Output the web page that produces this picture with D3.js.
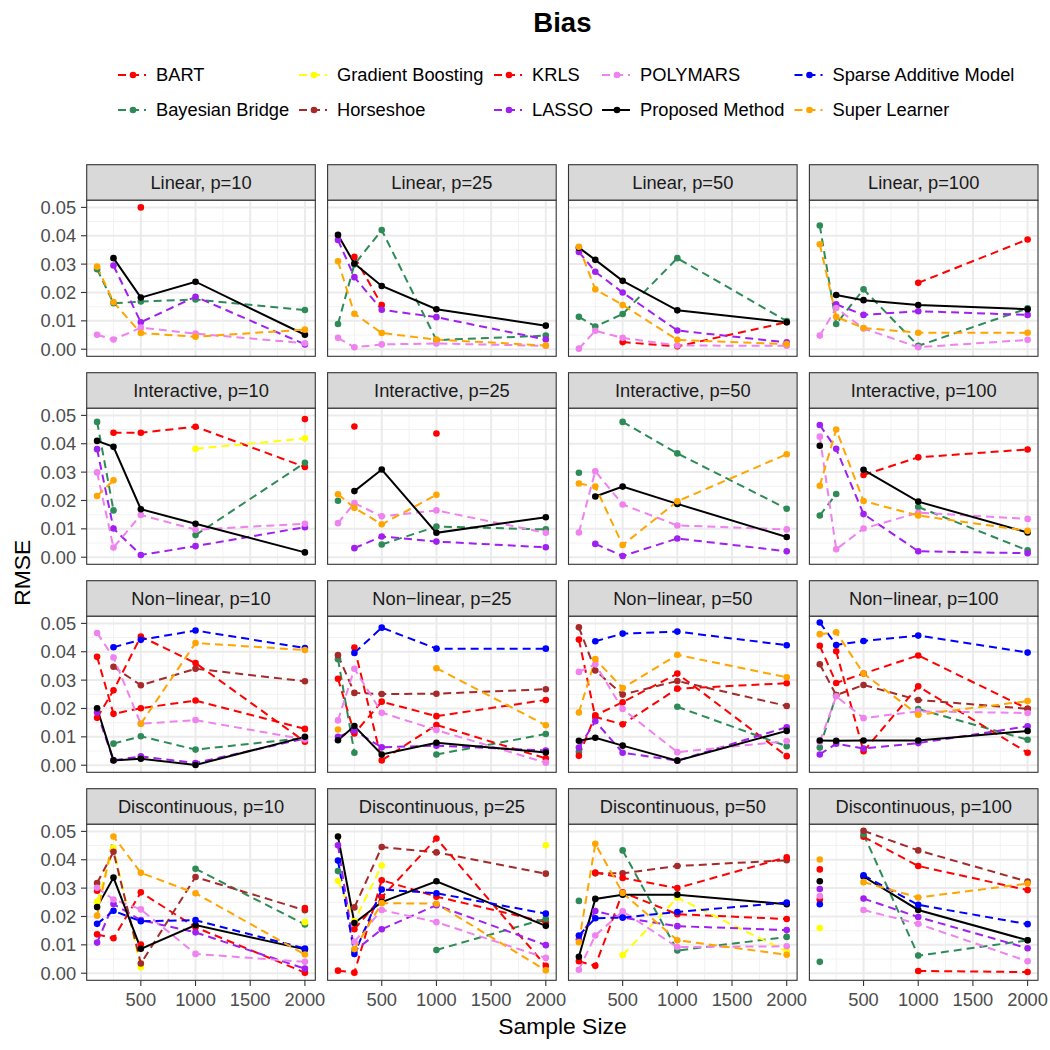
<!DOCTYPE html>
<html>
<head>
<meta charset="utf-8">
<script src="https://d3js.org/d3.v7.min.js"></script>
<style>
  body { margin: 0; background: #fff; }
  text { font-family: "Liberation Sans", Arial, Helvetica, sans-serif; }
</style>
</head>
<body>
<script>
// sample sizes on the x axis
const sampleSizes = [100, 250, 500, 1000, 2000]

const facetLabels = [
  "Linear, p=10", "Linear, p=25", "Linear, p=50", "Linear, p=100",
  "Interactive, p=10", "Interactive, p=25", "Interactive, p=50", "Interactive, p=100",
  "Non\u2212linear, p=10", "Non\u2212linear, p=25", "Non\u2212linear, p=50", "Non\u2212linear, p=100",
  "Discontinuous, p=10", "Discontinuous, p=25", "Discontinuous, p=50", "Discontinuous, p=100"
]

const methods = ["BART", "Bayesian Bridge", "Gradient Boosting", "Horseshoe", "KRLS",
  "LASSO", "POLYMARS", "Proposed Method", "Sparse Additive Model", "Super Learner"]
const methodColors = ["#FF0000", "#2E8B57", "#FFFF00", "#A52A2A", "#FF0000",
  "#A020F0", "#EE82EE", "#000000", "#0000FF", "#FFA500"]

const yTicks = [0, 0.01, 0.02, 0.03, 0.04, 0.05]
const xTicks = [500, 1000, 1500, 2000]

// one row per facet (in facetLabels order), one value per sample size; null = not shown
const N = null
const bart = [
  [N, N, 0.050, N, N], [N, 0.0326, 0.0156, N, N], [N, N, 0.0025, 0.001, 0.0095], [N, N, N, 0.0234, 0.0387],
  [N, 0.0439, 0.0439, 0.046, 0.0318], [N, 0.0461, N, 0.0436, N], [N, N, N, N, N], [N, N, 0.029, 0.0352, 0.038],
  [0.0382, 0.0181, 0.0201, 0.0228, 0.0128], [0.0305, 0.0112, 0.0224, 0.0173, 0.023], [0.0443, 0.017, 0.0144, 0.027, 0.0289], [0.0421, 0.029, 0.0323, 0.0387, 0.0199],
  [0.0137, 0.0123, 0.0285, 0.0162, 0.0002], [0.0009, 0.0002, 0.0328, 0.027, 0.018], [0.0042, 0.0026, 0.0285, 0.0208, 0.0191], [0.0366, N, 0.0481, 0.0378, 0.0293]
]
const bayesBridge = [
  [0.0282, 0.0162, 0.0168, 0.0175, 0.0138], [0.0089, 0.0299, 0.042, 0.0032, 0.0048], [0.0114, 0.008, 0.0124, 0.0321, 0.0099], [0.0436, 0.0089, 0.0211, 0.0012, 0.0144],
  [0.0477, 0.0165, N, 0.0078, 0.0333], [0.0199, N, 0.0045, 0.0108, 0.0098], [0.0298, N, 0.0477, 0.0366, 0.0171], [0.0147, 0.0223, N, 0.0177, 0.0024],
  [N, 0.0076, 0.0102, 0.0055, 0.0096], [0.0374, 0.0044, N, 0.0038, 0.011], [0.0047, N, N, 0.0206, 0.0067], [0.0062, 0.0247, N, 0.0198, 0.009],
  [N, N, N, 0.0368, 0.0172], [0.036, N, N, 0.0082, 0.0192], [0.0255, N, 0.0433, 0.008, 0.0128], [0.004, N, 0.049, 0.0062, 0.0116]
]
const gradBoost = [
  [N, N, N, N, N], [N, N, N, N, N], [N, N, N, N, N], [N, N, N, N, N],
  [N, N, N, 0.0382, 0.0419], [N, N, N, N, N], [N, N, N, N, N], [N, N, N, N, N],
  [N, N, N, N, N], [N, N, N, N, N], [N, N, N, N, N], [N, N, N, N, N],
  [0.0252, 0.0441, 0.0021, N, 0.018], [0.0326, 0.0184, 0.038, N, 0.0451], [N, N, 0.0064, 0.0266, 0.0077], [0.0159, N, N, N, N]
]
const horseshoe = [
  [N, N, N, N, N], [N, N, N, N, N], [N, N, N, N, N], [N, N, N, N, N],
  [N, N, N, N, N], [N, N, N, N, N], [N, N, N, N, N], [N, N, N, N, N],
  [N, 0.0347, 0.0282, 0.034, 0.0296], [0.0388, 0.0255, 0.0251, 0.0252, 0.0268], [0.0486, 0.0334, 0.0249, 0.0297, 0.0209], [0.0356, 0.0247, 0.0283, 0.023, 0.0199],
  [0.0318, 0.0428, 0.0034, 0.0339, 0.0222], [N, 0.0232, 0.0445, 0.0426, 0.0351], [N, 0.0352, 0.0352, 0.0378, 0.0398], [N, N, 0.0502, 0.0433, 0.0323]
]
const krls = [
  [N, N, N, N, N], [N, N, N, N, N], [N, N, N, N, N], [N, N, N, N, N],
  [N, N, N, N, 0.0487], [N, N, N, N, N], [N, N, N, N, N], [N, N, N, N, N],
  [0.0167, 0.0264, 0.0454, 0.036, 0.0083], [N, 0.0415, 0.0017, 0.0142, 0.0024], [0.0033, 0.0176, 0.0222, 0.0323, 0.0032], [N, 0.0402, 0.0049, 0.0278, 0.0044],
  [0.0291, N, 0.0101, N, 0.023], [N, 0.0155, 0.0268, 0.0475, 0.0026], [N, 0.0355, 0.0336, 0.03, 0.0409], [0.026, N, N, 0.0008, 0.0004]
]
const lasso = [
  [N, 0.0295, 0.0095, 0.0185, 0.0017], [0.0385, 0.0254, 0.0139, 0.0113, 0.0034], [0.0343, 0.0273, 0.020, 0.0066, 0.0024], [N, 0.0158, 0.0121, 0.0134, 0.0121],
  [0.0381, 0.0101, 0.0008, 0.0039, 0.0106], [N, 0.0032, 0.0073, 0.0055, 0.0035], [N, 0.0047, 0.0004, 0.0066, 0.0021], [0.0466, 0.0382, 0.0152, 0.0021, 0.0014],
  [0.0186, 0.0017, 0.0031, 0.0008, 0.0094], [0.01, 0.0122, 0.0063, 0.0069, 0.0052], [0.0062, 0.0155, 0.0044, 0.0016, 0.0134], [0.0038, 0.0076, 0.0059, 0.0078, 0.0137],
  [0.0108, 0.0244, 0.0187, 0.0144, 0.0016], [0.0451, 0.0078, 0.0155, 0.024, 0.0099], [0.0119, 0.0219, 0.0196, 0.0166, 0.0152], [0.0297, N, 0.0263, 0.0198, 0.0088]
]
const polymars = [
  [0.0051, 0.0034, 0.0076, 0.0055, 0.0021], [0.004, 0.0007, 0.0017, 0.002, 0.0012], [0.0002, 0.0065, 0.004, 0.0013, 0.0012], [0.0048, 0.0145, 0.0073, 0.0007, 0.0033],
  [0.0299, 0.0034, 0.0149, 0.0097, 0.0118], [0.012, 0.0191, 0.0144, 0.0165, 0.0086], [0.0087, 0.0303, 0.0186, 0.0112, 0.0098], [0.0425, 0.0028, 0.0101, 0.0157, 0.0135],
  [0.0466, 0.038, 0.0146, 0.0159, 0.0091], [0.0158, 0.034, 0.0185, 0.0124, 0.0009], [0.0329, 0.0356, 0.0198, 0.0046, 0.0085], [0.0082, 0.0243, 0.0166, 0.019, 0.0184],
  [0.0301, 0.026, 0.0225, 0.0068, 0.004], [N, 0.0111, 0.0223, 0.018, 0.0054], [0.0012, 0.0133, 0.0218, 0.0092, 0.0095], [0.0272, N, 0.0223, 0.0174, 0.0042]
]
const proposed = [
  [N, 0.0321, 0.0182, 0.0238, 0.0051], [0.0403, 0.0302, 0.0223, 0.0141, 0.0083], [0.0358, 0.0315, 0.0241, 0.0137, 0.0095], [N, 0.0191, 0.0173, 0.0156, 0.0141],
  [0.041, 0.0389, 0.0169, 0.0118, 0.0017], [N, 0.0233, 0.0309, 0.0086, 0.0141], [N, 0.0214, 0.0249, 0.0188, 0.0071], [0.0393, N, 0.0308, 0.0196, 0.0087],
  [0.0201, 0.0017, 0.0023, 0.0001, 0.01], [0.0088, 0.0138, 0.0038, 0.0079, 0.0045], [0.0086, 0.0097, 0.0069, 0.0016, 0.0121], [0.0087, 0.0086, 0.0087, 0.0087, 0.0121],
  [0.0233, 0.0337, 0.0086, 0.017, 0.0084], [0.0482, 0.0177, 0.0251, 0.0324, 0.0167], [0.0058, 0.0262, 0.0277, 0.0277, 0.0243], [0.0324, N, 0.0341, 0.0223, 0.0116]
]
const sparseAdditive = [
  [N, N, N, N, N], [N, N, N, N, N], [N, N, N, N, N], [N, N, N, N, N],
  [N, N, N, N, N], [N, N, N, N, N], [N, N, N, N, N], [N, N, N, N, N],
  [N, 0.0416, 0.0442, 0.0475, 0.0413], [N, 0.0396, 0.0485, 0.0411, 0.0411], [N, 0.0437, 0.0464, 0.0471, 0.0423], [0.0503, 0.0424, 0.0438, 0.0457, 0.0397],
  [0.0174, 0.022, 0.0183, 0.0187, 0.0087], [0.0397, 0.0068, 0.0295, 0.0282, 0.021], [0.0133, 0.0194, 0.0196, 0.0216, 0.0249], [0.0243, N, 0.0345, 0.0241, 0.0173]
]
const superLearner = [
  [0.0291, 0.0166, 0.0057, 0.0044, 0.0069], [0.031, 0.0125, 0.0057, 0.0034, 0.0013], [0.0361, 0.0211, 0.0156, 0.0033, 0.0018], [0.037, 0.0114, 0.0075, 0.0058, 0.0058],
  [0.0216, 0.0271, N, N, N], [0.0222, 0.0174, 0.0116, 0.022, N], [0.026, 0.0249, 0.0043, 0.0197, 0.0363], [0.0252, 0.045, 0.0198, 0.0147, 0.0093],
  [N, N, 0.0146, 0.0431, 0.0406], [0.0126, N, N, 0.0342, 0.0141], [0.0186, 0.0374, 0.0272, 0.0389, 0.031], [0.0462, 0.0469, 0.0323, 0.0178, 0.0226],
  [0.0203, 0.0482, 0.0354, 0.0282, 0.0066], [N, 0.0085, 0.0247, 0.0245, 0.001], [0.0109, 0.0456, 0.0283, 0.0116, 0.0065], [0.0401, N, 0.0321, 0.0267, 0.0316]
]

const seriesValues = [bart, bayesBridge, gradBoost, horseshoe, krls, lasso, polymars, proposed, sparseAdditive, superLearner]

// layout
const W = 1050, H = 1050
const left0 = 86.7, top0 = 164.7
const panelW = 228.6, panelH = 156, stripH = 35.6
const colPitch = 240.9, rowPitch = 208

const x = d3.scaleLinear().domain([5, 2095]).range([0, panelW])
const y = d3.scaleLinear().domain([-0.0025, 0.0525]).range([panelH, 0])

const svg = d3.select("body").append("svg")
  .attr("width", W).attr("height", H)
svg.append("rect").attr("width", W).attr("height", H).attr("fill", "#fff")

// title
svg.append("text").attr("x", 562.4).attr("y", 32)
  .attr("text-anchor", "middle").attr("font-size", 27.5).attr("font-weight", "bold")
  .text("Bias")

// legend, filled by column in 2 rows
const legendX = [156, 337, 532, 640, 832.5]
const legendY = [75, 110]
methods.forEach((m, i) => {
  const lx = legendX[Math.floor(i / 2)], ly = legendY[i % 2]
  const g = svg.append("g")
  g.append("line").attr("x1", lx - 38).attr("x2", lx - 10).attr("y1", ly).attr("y2", ly)
    .attr("stroke", methodColors[i]).attr("stroke-width", 2)
    .attr("stroke-dasharray", m == "Proposed Method" ? null : "8,5")
  g.append("circle").attr("cx", lx - 23).attr("cy", ly).attr("r", 3.3).attr("fill", methodColors[i])
  g.append("text").attr("x", lx).attr("y", ly).attr("dy", "0.35em")
    .attr("font-size", 18.3).attr("fill", "#000").text(m)
})

const line = d3.line()
  .defined(d => d.v != null)
  .x(d => x(d.n))
  .y(d => y(d.v))

facetLabels.forEach((label, p) => {
  const row = Math.floor(p / 4), col = p % 4
  const px = left0 + col * colPitch
  const stripTop = top0 + row * rowPitch
  const py = stripTop + stripH

  // strip
  svg.append("rect").attr("x", px).attr("y", stripTop).attr("width", panelW).attr("height", stripH)
    .attr("fill", "#D9D9D9").attr("stroke", "#333333").attr("stroke-width", 1.1)
  svg.append("text").attr("x", px + panelW / 2).attr("y", stripTop + stripH / 2).attr("dy", "0.35em")
    .attr("text-anchor", "middle").attr("font-size", 18.3).attr("fill", "#1A1A1A").text(label)

  const g = svg.append("g").attr("transform", `translate(${px},${py})`)
  g.append("rect").attr("width", panelW).attr("height", panelH).attr("fill", "#fff")

  // minor grid
  const xMinor = [250, 750, 1250, 1750]
  const yMinor = [0.005, 0.015, 0.025, 0.035, 0.045]
  g.selectAll(".xminor").data(xMinor).enter().append("line")
    .attr("x1", d => x(d)).attr("x2", d => x(d)).attr("y1", 0).attr("y2", panelH)
    .attr("stroke", "#F2F2F2").attr("stroke-width", 1)
  g.selectAll(".yminor").data(yMinor).enter().append("line")
    .attr("x1", 0).attr("x2", panelW).attr("y1", d => y(d)).attr("y2", d => y(d))
    .attr("stroke", "#F2F2F2").attr("stroke-width", 1)
  // major grid
  g.selectAll(".xmajor").data(xTicks).enter().append("line")
    .attr("x1", d => x(d)).attr("x2", d => x(d)).attr("y1", 0).attr("y2", panelH)
    .attr("stroke", "#EBEBEB").attr("stroke-width", 2)
  g.selectAll(".ymajor").data(yTicks).enter().append("line")
    .attr("x1", 0).attr("x2", panelW).attr("y1", d => y(d)).attr("y2", d => y(d))
    .attr("stroke", "#EBEBEB").attr("stroke-width", 2)

  // lines first, then points
  seriesValues.forEach((vals, mi) => {
    const pts = sampleSizes.map((n, k) => ({ n: n, v: vals[p][k] }))
    g.append("path").attr("d", line(pts)).attr("fill", "none")
      .attr("stroke", methodColors[mi]).attr("stroke-width", 2)
      .attr("stroke-dasharray", methods[mi] == "Proposed Method" ? null : "8,5")
  })
  seriesValues.forEach((vals, mi) => {
    const pts = sampleSizes.map((n, k) => ({ n: n, v: vals[p][k] })).filter(d => d.v != null)
    g.selectAll(null).data(pts).enter().append("circle")
      .attr("cx", d => x(d.n)).attr("cy", d => y(d.v)).attr("r", 3.3)
      .attr("fill", methodColors[mi])
  })

  g.append("rect").attr("width", panelW).attr("height", panelH)
    .attr("fill", "none").attr("stroke", "#333333").attr("stroke-width", 1.1)

  // y axis on first column
  if (col == 0) {
    yTicks.forEach(t => {
      g.append("line").attr("x1", -5.7).attr("x2", 0).attr("y1", y(t)).attr("y2", y(t))
        .attr("stroke", "#333333").attr("stroke-width", 1.1)
      g.append("text").attr("x", -10.5).attr("y", y(t)).attr("dy", "0.35em")
        .attr("text-anchor", "end").attr("font-size", 18.3).attr("fill", "#4D4D4D")
        .text(d3.format(".2f")(t))
    })
  }
  // x axis on bottom row
  if (row == 3) {
    xTicks.forEach(t => {
      g.append("line").attr("x1", x(t)).attr("x2", x(t)).attr("y1", panelH).attr("y2", panelH + 5.7)
        .attr("stroke", "#333333").attr("stroke-width", 1.1)
      g.append("text").attr("x", x(t)).attr("y", panelH + 19).attr("dy", "0.35em")
        .attr("text-anchor", "middle").attr("font-size", 18.3).attr("fill", "#4D4D4D")
        .text(t)
    })
  }
})

// axis titles
svg.append("text").attr("x", 562.4).attr("y", 1026).attr("dy", "0.35em")
  .attr("text-anchor", "middle").attr("font-size", 22.9).text("Sample Size")
svg.append("text").attr("transform", "translate(22,572.7) rotate(-90)").attr("dy", "0.35em")
  .attr("text-anchor", "middle").attr("font-size", 22.9).text("RMSE")
</script>
</body>
</html>
